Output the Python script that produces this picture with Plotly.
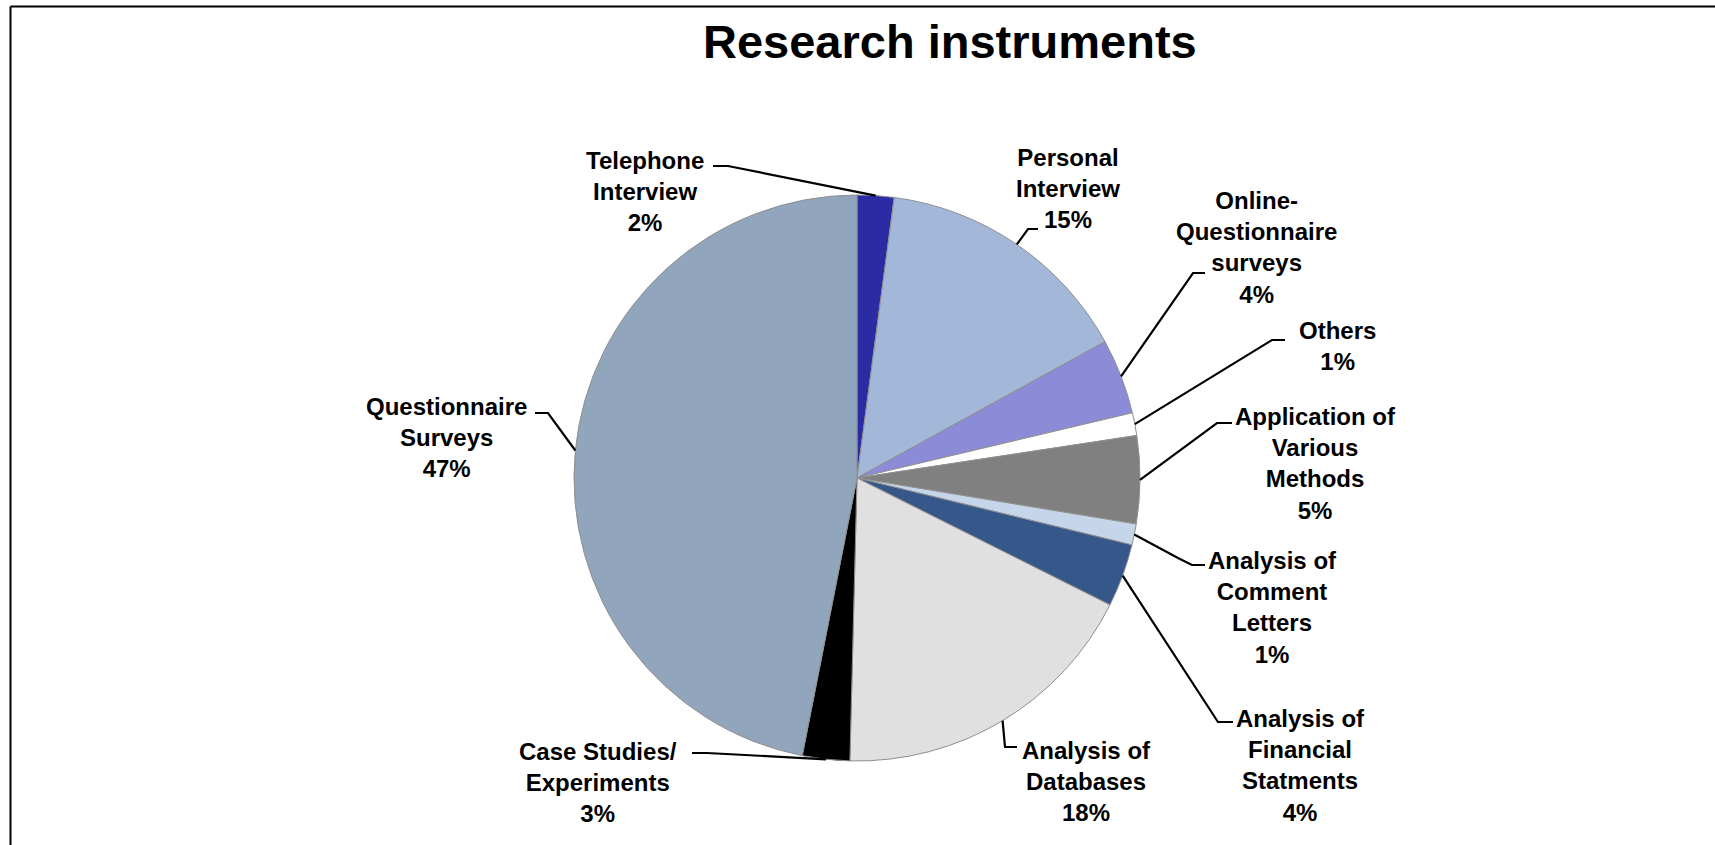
import math
import plotly.graph_objects as go

W, H = 1715, 845

# ---- data (clockwise from 12 o'clock) ----
categories = [
    "Telephone<br>Interview",
    "Personal<br>Interview",
    "Online-<br>Questionnaire<br>surveys",
    "Others",
    "Application of<br>Various<br>Methods",
    "Analysis of<br>Comment<br>Letters",
    "Analysis of<br>Financial<br>Statments",
    "Analysis of<br>Databases",
    "Case Studies/<br>Experiments",
    "Questionnaire<br>Surveys",
]
values = [2.1, 14.9, 4.3, 1.3, 5.0, 1.2, 3.6, 18.0, 2.7, 46.9]
shown_pct = ["2%", "15%", "4%", "1%", "5%", "1%", "4%", "18%", "3%", "47%"]
colors = ["#2b2ba3", "#a3b8d8", "#8b8bd8", "#ffffff", "#808080",
          "#c6d6ea", "#35578a", "#e0e0e0", "#000000", "#91a5bd"]

# ---- layout positions (pixels) ----
pie_box = (574, 195, 1140, 761)  # x0, y0, x1, y1
# label block centre (x, y) and leader elbow points (pixels)
label_pos = [
    (645, 191), (1068, 189), (1256, 247), (1337, 346), (1315, 463),
    (1272, 607), (1300, 765), (1086, 781), (598, 782), (446, 438),
]
leader_pts = [
    [(728, 166), (713, 166)],
    [(1028, 229), (1038, 229)],
    [(1193, 273), (1205, 273)],
    [(1272, 340), (1285, 340)],
    [(1217, 423), (1232, 423)],
    [(1178, 558), (1192, 565), (1205, 565)],
    [(1218, 722), (1233, 722)],
    [(1005, 747), (1017, 747)],
    [(707, 753), (692, 753)],
    [(548, 413), (535, 413)],
]


def px(x):
    return x / W


def py(y):
    return 1 - y / H


fig = go.Figure(go.Pie(
    labels=[c.replace("<br>", " ") for c in categories],
    values=values,
    sort=False,
    direction="clockwise",
    rotation=0,
    marker=dict(colors=colors, line=dict(color="#8f8f8f", width=1)),
    textinfo="none",
    hoverinfo="label+percent",
    showlegend=False,
    domain=dict(x=[px(pie_box[0]), px(pie_box[2])],
                y=[py(pie_box[3]), py(pie_box[1])]),
))

cx = (pie_box[0] + pie_box[2]) / 2
cy = (pie_box[1] + pie_box[3]) / 2
r = (pie_box[2] - pie_box[0]) / 2
total = sum(values)

shapes = []
annotations = []
cum = 0.0
for i, v in enumerate(values):
    mid = (cum + v / 2) / total * 2 * math.pi
    cum += v
    ex = cx + r * math.sin(mid)
    ey = cy - r * math.cos(mid)
    pts = [(ex, ey)] + leader_pts[i]
    path = "M " + " L ".join(f"{px(a):.5f},{py(b):.5f}" for a, b in pts)
    shapes.append(dict(type="path", xref="paper", yref="paper", path=path,
                       line=dict(color="black", width=2.2)))
    lx, ly = label_pos[i]
    annotations.append(dict(
        x=px(lx), y=py(ly), xref="paper", yref="paper",
        text=categories[i] + "<br>" + shown_pct[i],
        showarrow=False, xanchor="center", yanchor="middle", align="center",
        font=dict(family="Arial, Liberation Sans", size=24, color="black",
                  weight="bold"),
    ))

annotations.append(dict(
    x=px(950), y=py(42), xref="paper", yref="paper",
    text="Research instruments", showarrow=False,
    xanchor="center", yanchor="middle",
    font=dict(family="Arial, Liberation Sans", size=47, color="black",
              weight="bold"),
))

# frame lines (top and left)
shapes.append(dict(type="line", xref="paper", yref="paper",
                   x0=px(10.5), x1=1.01, y0=py(6.5), y1=py(6.5),
                   line=dict(color="black", width=2)))
shapes.append(dict(type="line", xref="paper", yref="paper",
                   x0=px(10.5), x1=px(10.5), y0=py(6.5), y1=-0.01,
                   line=dict(color="black", width=2)))

fig.update_layout(
    width=W, height=H,
    margin=dict(l=0, r=0, t=0, b=0),
    paper_bgcolor="white", plot_bgcolor="white",
    shapes=shapes, annotations=annotations,
)

fig.write_html("out.html")
